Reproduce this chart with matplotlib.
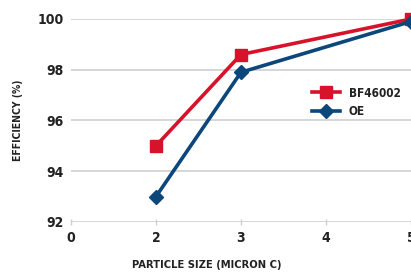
import matplotlib
matplotlib.use("Agg")
import matplotlib.pyplot as plt

sizes = ["0", "2", "3", "4", "5"]
bf_pos = [1, 2, 4]
bf_eff = [95.0, 98.6, 100.0]
oe_pos = [1, 2, 4]
oe_eff = [93.0, 97.9, 99.9]

RED = "#d6132a"
BLUE = "#0b477a"
GRID = "#d0d0d0"
INK = "#222222"

plt.rcParams["font.family"] = ["DejaVu Sans"]
plt.rcParams["font.stretch"] = "condensed"

fig = plt.figure(figsize=(4.11, 2.74), dpi=100)
ax = fig.add_axes([0.1727, 0.19, 0.8273, 0.7407])

ax.plot(bf_pos, bf_eff, color=RED, lw=2.6, marker="s", ms=9, label="BF46002",
        clip_on=False, zorder=3)
ax.plot(oe_pos, oe_eff, color=BLUE, lw=2.6, marker="D", ms=7.5, label="OE",
        clip_on=False, zorder=4)

ax.set_xlim(0, 4)
ax.set_ylim(92, 100)
ax.set_xticks(range(len(sizes)))
ax.set_xticklabels(sizes)
ax.set_yticks([92, 94, 96, 98, 100])
ax.grid(axis="y", color=GRID, lw=1.2)
ax.set_axisbelow(True)
for s in ax.spines.values():
    s.set_visible(False)

ax.tick_params(axis="x", direction="inout", length=5, width=1, color=GRID,
               pad=4, labelsize=10)
ax.tick_params(axis="y", length=0, pad=5, labelsize=10)
for lab in ax.get_xticklabels() + ax.get_yticklabels():
    lab.set_fontweight("bold")
    lab.set_fontstretch("condensed")
    lab.set_color(INK)

ax.set_xlabel("PARTICLE SIZE (MICRON C)", fontsize=8, fontweight="bold",
              fontstretch="condensed", color=INK, labelpad=11)
ax.xaxis.label.set_x(0.4)
ax.set_ylabel("EFFICIENCY (%)", fontsize=7.5, fontweight="bold",
              fontstretch="condensed", color=INK, labelpad=11)

leg = ax.legend(loc="upper left", bbox_to_anchor=(0.695, 0.69), frameon=False,
                prop={"weight": "bold", "size": 8.5, "stretch": "condensed"},
                handlelength=2.4, labelspacing=0.45, borderaxespad=0,
                handletextpad=0.7)
for t in leg.get_texts():
    t.set_color(INK)

fig.savefig("out.png", dpi=100)
